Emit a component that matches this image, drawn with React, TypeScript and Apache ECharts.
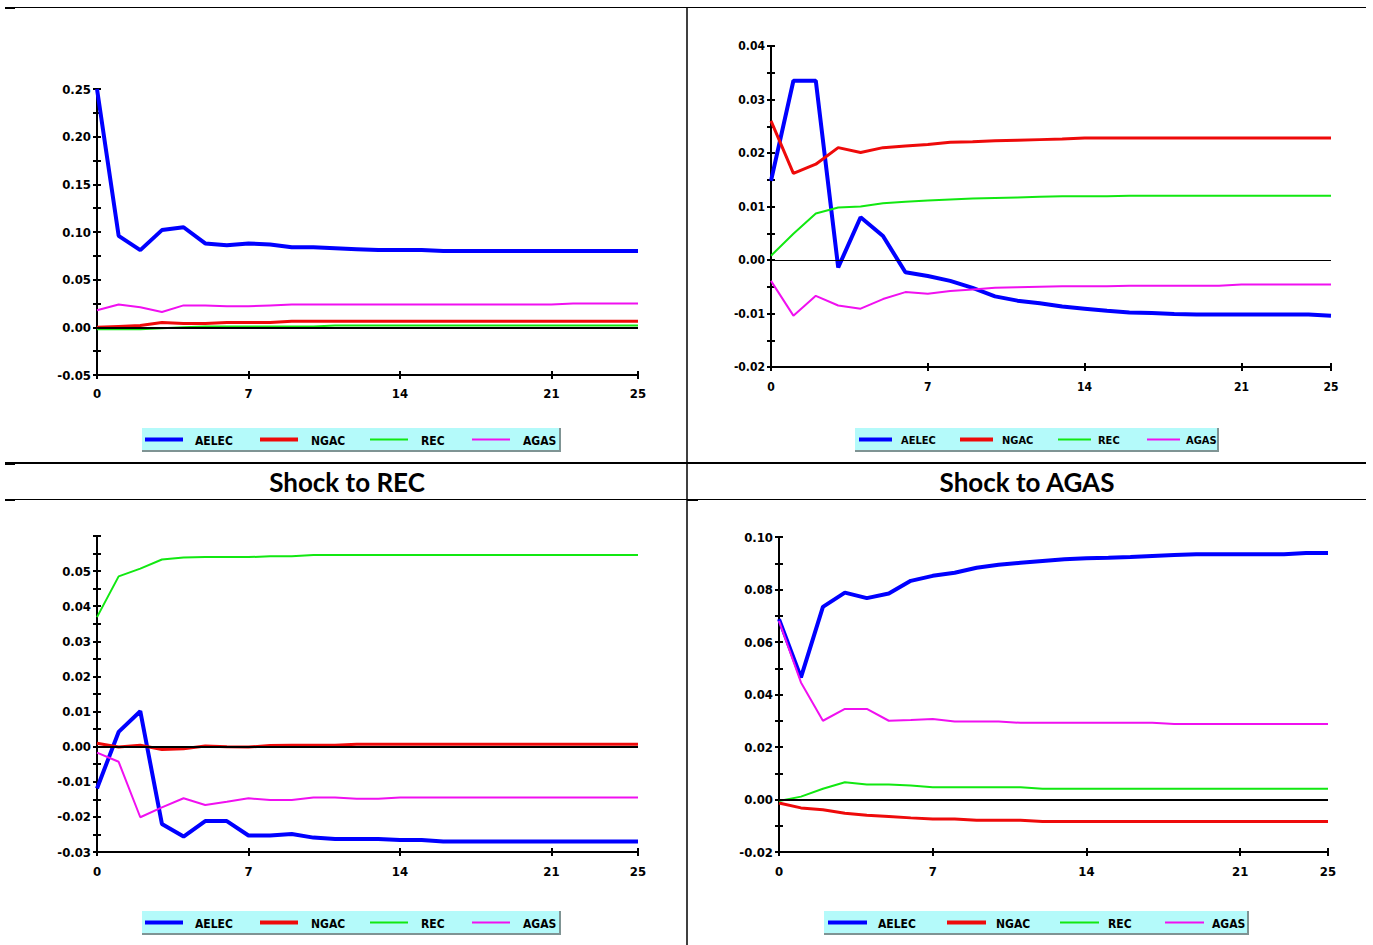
import React, { useEffect, useRef } from "react";
import * as echarts from "echarts";

// ---------- data ----------
const periods = [0, 1, 2, 3, 4, 5, 6, 7, 8, 9, 10, 11, 12, 13, 14, 15, 16, 17, 18, 19, 20, 21, 22, 23, 24, 25];
const seriesNames = ["AELEC", "NGAC", "REC", "AGAS"];
const panelTitles = ["Shock to REC", "Shock to AGAS"];

// Panel A (top-left)
const aelecA = [0.250, 0.096, 0.081, 0.102, 0.105, 0.088, 0.086, 0.088, 0.087, 0.084, 0.084, 0.083, 0.082, 0.081, 0.081, 0.081, 0.080, 0.080, 0.080, 0.080, 0.080, 0.080, 0.080, 0.080, 0.080, 0.080];
const ngacA = [0.000, 0.001, 0.002, 0.005, 0.004, 0.004, 0.005, 0.005, 0.005, 0.0065, 0.0065, 0.0065, 0.0065, 0.0065, 0.0065, 0.0065, 0.0065, 0.0065, 0.0065, 0.0065, 0.0065, 0.0065, 0.0065, 0.0065, 0.0065, 0.0065];
const recA = [-0.002, -0.002, -0.002, -0.001, 0.000, 0.001, 0.001, 0.001, 0.001, 0.001, 0.001, 0.002, 0.002, 0.002, 0.002, 0.002, 0.002, 0.002, 0.002, 0.002, 0.002, 0.002, 0.002, 0.002, 0.002, 0.002];
const agasA = [0.018, 0.024, 0.021, 0.016, 0.023, 0.023, 0.022, 0.022, 0.023, 0.024, 0.024, 0.024, 0.024, 0.024, 0.024, 0.024, 0.024, 0.024, 0.024, 0.024, 0.024, 0.024, 0.025, 0.025, 0.025, 0.025];

// Panel B (top-right)
const aelecB = [0.0148, 0.0335, 0.0335, -0.0014, 0.0080, 0.0045, -0.0023, -0.0030, -0.0039, -0.0052, -0.0068, -0.0076, -0.0081, -0.0087, -0.0091, -0.0095, -0.0098, -0.0099, -0.0101, -0.0102, -0.0102, -0.0102, -0.0102, -0.0102, -0.0102, -0.0104];
const ngacB = [0.0260, 0.0162, 0.0179, 0.0210, 0.0201, 0.0210, 0.0213, 0.0216, 0.0220, 0.0221, 0.0223, 0.0224, 0.0225, 0.0226, 0.0228, 0.0228, 0.0228, 0.0228, 0.0228, 0.0228, 0.0228, 0.0228, 0.0228, 0.0228, 0.0228, 0.0228];
const recB = [0.0008, 0.0049, 0.0087, 0.0098, 0.0100, 0.0106, 0.0109, 0.0111, 0.0113, 0.0115, 0.0116, 0.0117, 0.0118, 0.0119, 0.0119, 0.0119, 0.0120, 0.0120, 0.0120, 0.0120, 0.0120, 0.0120, 0.0120, 0.0120, 0.0120, 0.0120];
const agasB = [-0.0039, -0.0104, -0.0067, -0.0085, -0.0091, -0.0073, -0.0060, -0.0063, -0.0058, -0.0055, -0.0052, -0.0051, -0.0050, -0.0049, -0.0049, -0.0049, -0.0048, -0.0048, -0.0048, -0.0048, -0.0048, -0.0046, -0.0046, -0.0046, -0.0046, -0.0046];

// Panel C (bottom-left, Shock to REC)
const aelecC = [-0.0119, 0.0042, 0.0101, -0.0220, -0.0256, -0.0212, -0.0212, -0.0253, -0.0253, -0.0249, -0.0259, -0.0263, -0.0263, -0.0263, -0.0266, -0.0266, -0.0270, -0.0270, -0.0270, -0.0270, -0.0270, -0.0270, -0.0270, -0.0270, -0.0270, -0.0270];
const ngacC = [0.0010, -0.0001, 0.0004, -0.0008, -0.0006, 0.0002, 0.0000, -0.0001, 0.0003, 0.0004, 0.0004, 0.0004, 0.0007, 0.0007, 0.0007, 0.0007, 0.0007, 0.0007, 0.0007, 0.0007, 0.0007, 0.0007, 0.0007, 0.0007, 0.0007, 0.0007];
const recC = [0.0369, 0.0485, 0.0507, 0.0533, 0.0539, 0.0540, 0.0540, 0.0540, 0.0542, 0.0542, 0.0546, 0.0546, 0.0546, 0.0546, 0.0546, 0.0546, 0.0546, 0.0546, 0.0546, 0.0546, 0.0546, 0.0546, 0.0546, 0.0546, 0.0546, 0.0546];
const agasC = [-0.0017, -0.0043, -0.0201, -0.0173, -0.0147, -0.0166, -0.0157, -0.0147, -0.0152, -0.0152, -0.0145, -0.0145, -0.0148, -0.0148, -0.0145, -0.0145, -0.0145, -0.0145, -0.0145, -0.0145, -0.0145, -0.0145, -0.0145, -0.0145, -0.0145, -0.0145];

// Panel D (bottom-right, Shock to AGAS)
const aelecD = [0.0687, 0.0465, 0.0734, 0.0788, 0.0767, 0.0785, 0.0833, 0.0852, 0.0864, 0.0883, 0.0894, 0.0902, 0.0909, 0.0915, 0.0919, 0.0921, 0.0924, 0.0928, 0.0931, 0.0934, 0.0934, 0.0934, 0.0934, 0.0934, 0.0939, 0.0939];
const ngacD = [-0.0013, -0.0032, -0.0039, -0.0052, -0.0060, -0.0065, -0.0070, -0.0074, -0.0074, -0.0079, -0.0079, -0.0079, -0.0084, -0.0084, -0.0084, -0.0084, -0.0084, -0.0084, -0.0084, -0.0084, -0.0084, -0.0084, -0.0084, -0.0084, -0.0084, -0.0084];
const recD = [-0.0006, 0.0011, 0.0041, 0.0066, 0.0057, 0.0057, 0.0053, 0.0047, 0.0047, 0.0047, 0.0047, 0.0047, 0.0041, 0.0041, 0.0041, 0.0041, 0.0041, 0.0041, 0.0041, 0.0041, 0.0041, 0.0041, 0.0041, 0.0041, 0.0041, 0.0041];
const agasD = [0.0680, 0.0446, 0.0300, 0.0345, 0.0345, 0.0300, 0.0303, 0.0307, 0.0297, 0.0297, 0.0297, 0.0292, 0.0292, 0.0292, 0.0292, 0.0292, 0.0292, 0.0292, 0.0288, 0.0288, 0.0288, 0.0288, 0.0288, 0.0288, 0.0288, 0.0288];

// y-axis ranges per panel [min, max, interval]
const yRangeA = [-0.05, 0.25, 0.05];
const yRangeB = [-0.02, 0.04, 0.01];
const yRangeC = [-0.03, 0.06, 0.01];
const yRangeD = [-0.02, 0.10, 0.02];

// ---------- styles ----------
const COLORS = ["#0000ff", "#ee0a0a", "#11e811", "#f010f0"];
const WIDTHS = [4, 3, 2, 2];
const LEGEND_WIDTHS = [4, 4, 2, 2];
const FONT = "'DejaVu Sans Condensed', 'Liberation Sans Narrow', sans-serif";
const TITLE_FONT = "Lato, 'Open Sans', sans-serif";

type Panel = {
  grid: { left: number; top: number; width: number; height: number };
  y: number[];
  data: number[][];
  zeroW: number;
  hideMax: boolean;
  fontSize: number;
  xMargin: number;
  legend: { x: number; y: number; w: number; lines: number[]; texts: number[]; len: number; fontSize: number };
};

const panels: Panel[] = [
  {
    grid: { left: 97, top: 89, width: 541, height: 286 },
    y: yRangeA,
    data: [aelecA, ngacA, recA, agasA],
    zeroW: 2,
    hideMax: false,
    fontSize: 13,
    xMargin: 12,
    legend: { x: 142, y: 428, w: 418, lines: [3, 118, 228, 330], texts: [53, 169, 279, 381], len: 38, fontSize: 12 },
  },
  {
    grid: { left: 771, top: 46, width: 560, height: 321 },
    y: yRangeB,
    data: [aelecB, ngacB, recB, agasB],
    zeroW: 1,
    hideMax: false,
    fontSize: 12,
    xMargin: 14,
    legend: { x: 855, y: 428, w: 363, lines: [4, 105, 203, 292], texts: [46, 147, 243, 331], len: 33, fontSize: 11 },
  },
  {
    grid: { left: 97, top: 536, width: 541, height: 316 },
    y: yRangeC,
    data: [aelecC, ngacC, recC, agasC],
    zeroW: 2,
    hideMax: true,
    fontSize: 13,
    xMargin: 13,
    legend: { x: 142, y: 911, w: 418, lines: [3, 118, 228, 330], texts: [53, 169, 279, 381], len: 38, fontSize: 12 },
  },
  {
    grid: { left: 779, top: 537, width: 549, height: 315 },
    y: yRangeD,
    data: [aelecD, ngacD, recD, agasD],
    zeroW: 2,
    hideMax: false,
    fontSize: 13,
    xMargin: 13,
    legend: { x: 824, y: 911, w: 424, lines: [4, 123, 236, 341], texts: [54, 172, 284, 388], len: 39, fontSize: 12 },
  },
];

function buildOption() {
  const grids: any[] = [];
  const xAxes: any[] = [];
  const yAxes: any[] = [];
  const series: any[] = [];
  const graphics: any[] = [];

  const tickStyle = { color: "#000", width: 2 };

  panels.forEach((p, i) => {
    grids.push({ ...p.grid, containLabel: false });
    const [ymin, ymax, yint] = p.y;
    const labelFont = {
      color: "#000",
      fontFamily: FONT,
      fontWeight: "bold",
      fontSize: p.fontSize,
    };
    xAxes.push({
      type: "value",
      gridIndex: i,
      min: 0,
      max: 25,
      interval: 7,
      position: "bottom",
      axisLine: { show: true, onZero: false, lineStyle: { color: "#000", width: 2 } },
      axisTick: { show: true, inside: false, length: 4, lineStyle: tickStyle },
      axisLabel: { ...labelFont, margin: p.xMargin, showMinLabel: true, showMaxLabel: true },
      splitLine: { show: false },
    });
    xAxes.push({
      type: "value",
      gridIndex: i,
      min: 0,
      max: 25,
      interval: 7,
      position: "bottom",
      axisLine: { show: false, onZero: false },
      axisTick: { show: true, inside: true, length: 4, lineStyle: tickStyle },
      axisLabel: { show: false },
      splitLine: { show: false },
    });
    const fmt = (v: number) => {
      if (p.hideMax && Math.abs(v - ymax) < 1e-9) return "";
      if (Math.abs(v) < 1e-9) return "0.00";
      return v.toFixed(2);
    };
    yAxes.push({
      type: "value",
      gridIndex: i,
      min: ymin,
      max: ymax,
      interval: yint,
      position: "left",
      axisLine: { show: true, onZero: false, lineStyle: { color: "#000", width: 2 } },
      axisTick: { show: true, inside: false, length: 4, lineStyle: tickStyle },
      minorTick: { show: true, splitNumber: 2, length: 4, lineStyle: tickStyle },
      axisLabel: { ...labelFont, margin: 6, formatter: fmt },
      splitLine: { show: false },
      minorSplitLine: { show: false },
    });
    yAxes.push({
      type: "value",
      gridIndex: i,
      min: ymin,
      max: ymax,
      interval: yint,
      position: "left",
      axisLine: { show: false, onZero: false },
      axisTick: { show: true, inside: true, length: 4, lineStyle: tickStyle },
      minorTick: { show: true, splitNumber: 2, length: 4, lineStyle: tickStyle },
      axisLabel: { show: false },
      splitLine: { show: false },
      minorSplitLine: { show: false },
    });

    seriesNames.forEach((name, k) => {
      const s: any = {
        name,
        type: "line",
        xAxisIndex: i * 2,
        yAxisIndex: i * 2,
        data: periods.map((t, j) => [t, p.data[k][j]]),
        symbol: "none",
        showSymbol: false,
        lineStyle: { color: COLORS[k], width: WIDTHS[k] },
        itemStyle: { color: COLORS[k] },
        emphasis: { disabled: true },
        silent: true,
        z: 2 + k,
      };
      if (k === 3) {
        s.markLine = {
          silent: true,
          symbol: ["none", "none"],
          label: { show: false },
          lineStyle: { color: "#000", width: p.zeroW, type: "solid" },
          data: [{ yAxis: 0 }],
          animation: false,
        };
      }
      series.push(s);
    });

    const L = p.legend;
    const h = 23;
    graphics.push({
      type: "rect",
      shape: { x: L.x, y: L.y, width: L.w, height: h },
      style: { fill: "#b4fafa", stroke: null },
      silent: true,
    });
    graphics.push({
      type: "polyline",
      shape: { points: [[L.x + L.w, L.y], [L.x + L.w, L.y + h], [L.x, L.y + h]] },
      style: { stroke: "#7f9494", lineWidth: 2, fill: null },
      silent: true,
    });
    seriesNames.forEach((name, k) => {
      const cy = L.y + h / 2;
      graphics.push({
        type: "line",
        shape: { x1: L.x + L.lines[k], y1: cy, x2: L.x + L.lines[k] + L.len, y2: cy },
        style: { stroke: COLORS[k], lineWidth: LEGEND_WIDTHS[k] },
        silent: true,
      });
      graphics.push({
        type: "text",
        x: L.x + L.texts[k],
        y: cy + 1,
        style: {
          text: name,
          fill: "#000",
          font: `bold ${L.fontSize}px ${FONT}`,
          textAlign: "left",
          textVerticalAlign: "middle",
          align: "left",
          verticalAlign: "middle",
        },
        silent: true,
      });
    });
  });

  const hline = (y: number, x1: number, x2: number, w: number) => ({
    type: "line",
    shape: { x1, y1: y, x2, y2: y },
    style: { stroke: "#000", lineWidth: w },
    silent: true,
  });
  graphics.push(hline(7.5, 5, 1366, 1));
  graphics.push(hline(463, 5, 1366, 2));
  graphics.push(hline(499.5, 5, 1366, 1));
  graphics.push(hline(8, 5, 15, 2));
  graphics.push(hline(464, 5, 15, 2));
  graphics.push(hline(500, 5, 15, 2));
  graphics.push(hline(500, 687, 698, 2));
  graphics.push({
    type: "line",
    shape: { x1: 687, y1: 7, x2: 687, y2: 945 },
    style: { stroke: "#000", lineWidth: 1.5 },
    silent: true,
  });

  const titleX = [347, 1027];
  panelTitles.forEach((t, i) => {
    graphics.push({
      type: "text",
      x: titleX[i],
      y: 482,
      style: {
        text: t,
        fill: "#000",
        font: `bold 26px ${TITLE_FONT}`,
        textAlign: "center",
        textVerticalAlign: "middle",
        align: "center",
        verticalAlign: "middle",
      },
      silent: true,
    });
  });

  return {
    animation: false,
    backgroundColor: "#ffffff",
    grid: grids,
    xAxis: xAxes,
    yAxis: yAxes,
    series,
    graphic: { elements: graphics },
  };
}

export default function App() {
  const ref = useRef<HTMLDivElement>(null);
  useEffect(() => {
    if (!ref.current) return;
    const chart = echarts.init(ref.current, undefined, { renderer: "svg" });
    chart.setOption(buildOption() as any);
    return () => {
      chart.dispose();
    };
  }, []);
  return (
    <div
      ref={ref}
      style={{ position: "absolute", left: 0, top: 0, width: 1373, height: 945, background: "#fff" }}
    />
  );
}
